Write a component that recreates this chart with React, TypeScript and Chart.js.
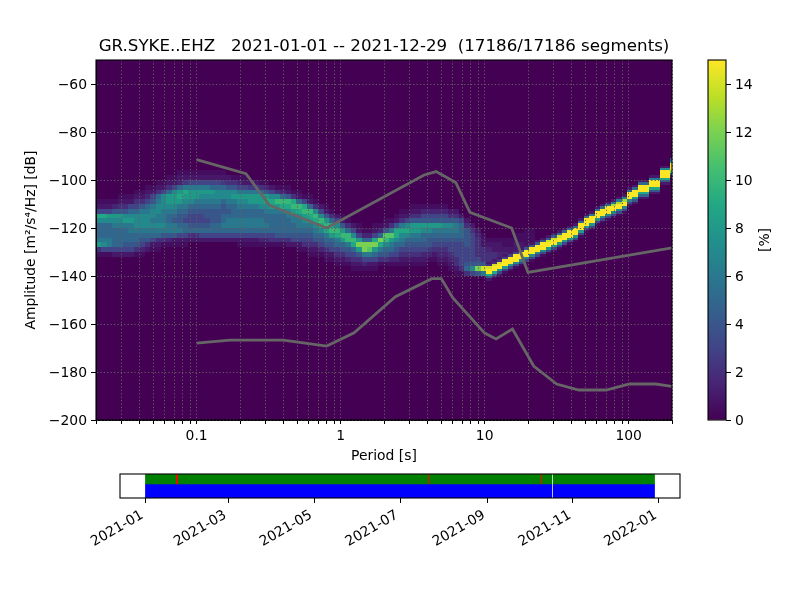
import React, { useEffect, useRef } from "react";
import { Chart, registerables } from "chart.js";

Chart.register(...registerables);

const FONT = "'DejaVu Sans'";
const TITLE = "GR.SYKE..EHZ   2021-01-01 -- 2021-12-29  (17186/17186 segments)";

// Period bin edges [s]
const periodEdges = [
  0.02, 0.0218, 0.0238, 0.0259, 0.0283, 0.0308, 0.0336, 0.0367,
  0.04, 0.0436, 0.0476, 0.0519, 0.0566, 0.0617, 0.0673, 0.0734,
  0.08, 0.0872, 0.0951, 0.1037, 0.1131, 0.1234, 0.1345, 0.1467,
  0.16, 0.1745, 0.1903, 0.2075, 0.2263, 0.2468, 0.2691, 0.2934,
  0.32, 0.349, 0.3805, 0.415, 0.4525, 0.4935, 0.5382, 0.5869,
  0.64, 0.698, 0.761, 0.83, 0.905, 0.987, 1.076, 1.174,
  1.28, 1.396, 1.522, 1.66, 1.81, 1.974, 2.153, 2.348,
  2.56, 2.792, 3.044, 3.32, 3.62, 3.948, 4.305, 4.695,
  5.12, 5.583, 6.089, 6.64, 7.241, 7.896, 8.611, 9.39,
  10.24, 11.17, 12.18, 13.28, 14.48, 15.79, 17.22, 18.78,
  20.48, 22.33, 24.36, 26.56, 28.96, 31.58, 34.44, 37.56,
  40.96, 44.67, 48.71, 53.12, 57.93, 63.17, 68.89, 75.13,
  81.92, 89.34, 97.42, 106.2, 115.9, 126.3, 137.8, 150.3,
  163.8, 178.7, 194.8, 212,
];

// Top of the first row of the broad part, and height of its rows [dB]
const broadTopDb = -96;
const broadRowDb = 2;
// Probability [%] per period column, rows going downwards from broadTopDb
const broadPercent: number[][] = [
  [0,0,0,0,0,0,.5,1,3,9,7,5,5,5,6,8,2,.5],
  [0,0,0,0,0,0,.5,1,3,9,7,5,5,5,6,7,3,.5],
  [0,0,0,0,0,0,.5,1,3,8,7,5,5,5,6,6,3,.5],
  [0,0,0,0,0,0,.5,1.5,4,8,7,6,5,5,5,5,3,1],
  [0,0,0,0,0,.5,1,2,4,8,7,6,5,5,5,5,3,1],
  [0,0,0,0,0,.5,1,2,4,7,8,6,5,5,5,4,3,1],
  [0,0,0,0,0,.5,1,3,5,7,8,6,6,5,5,4,3,1],
  [0,0,0,0,.5,1,2,3,5,7,7,7,6,5,5,4,2,.5],
  [0,0,0,0,.5,1,2,4,6,7,7,7,6,5,4,3,1.5,.5],
  [0,0,0,.5,1,1.5,3,5,6,7,7,7,6,5,4,2,1],
  [0,0,0,.5,1,3,4,6,7,7,6,7,6,5,3,1,.5],
  [0,0,.5,1,2,5,6,7,7,6,6,7,6,5,2,1,.5],
  [0,0,.5,1,3,7,7,7,6,6,6,7,6,4,2,.5],
  [0,.5,1,2,5,8,8,7,6,5,5,6,6,4,1.5,.5],
  [0,.5,1,3,7,8,8,7,6,5,4,6,6,4,1,.5],
  [.5,1,1.5,5,8,9,8,6,5,4,4,5,6,3,1,.5],
  [.5,1,2.5,6,9,8,7,6,5,4,3,5,5,3,1,.5],
  [.5,1,3,6,8,8,7,5,4,3,3,4,5,2,1],
  [.5,1,3,6,8,8,6,5,4,3,3,4,5,2,1],
  [.5,1,3,6,8,7,6,5,4,3,3,4,5,3,1],
  [.5,1,3,6,8,7,6,5,4,4,3,4,5,3,1],
  [.5,1,3,5,8,7,6,5,4,4,4,5,5,3,1],
  [.5,1,3,5,7,7,6,5,4,4,4,5,5,3,1],
  [.5,1,2.5,5,7,7,5,4,4,5,5,6,5,3,1],
  [0,1,2,4,7,7,6,5,4,5,6,6,5,3,1],
  [0,.5,2,4,7,8,6,5,5,5,6,6,5,3,1],
  [0,.5,1.5,3,6,8,7,6,5,5,6,6,5,3,1,.5],
  [0,.5,1,3,6,8,7,6,5,5,6,6,5,3,1,.5],
  [0,0,1,2.5,6,8,8,6,5,5,6,6,5,3,1,.5],
  [0,0,1,2.5,6,8,8,6,5,5,6,6,5,3,1,.5],
  [0,0,.5,2,5,8,8,7,5,5,6,6,5,3,1.5,.5],
  [0,0,.5,1.5,4,8,9,7,6,5,5,6,5,3,1.5,.5],
  [0,0,0,1,3,7,9,8,6,5,5,5,5,3,2,.5],
  [0,0,0,.5,2,7,10,8,6,5,5,5,5,4,2,.5],
  [0,0,0,.5,1.5,5,10,9,6,5,5,5,5,4,2,.5],
  [0,0,0,.5,1,4,10,9,7,6,5,5,5,4,2,1],
  [0,0,0,0,.5,2,9,10,8,6,6,5,5,4,3,1],
  [0,0,0,0,.5,1,5,10,9,7,6,6,5,4,3,1,.5],
  [0,0,0,0,0,.5,3,9,10,8,7,6,5,4,3,2,.5],
  [0,0,0,0,0,.5,1,5,10,9,8,6,5,4,3,2,1,.5],
  [0,0,0,0,0,0,.5,2,7,10,9,7,6,5,4,2,1,.5],
  [0,0,0,0,0,0,0,1,3,7,10,9,7,5,4,3,1.5,.5],
  [0,0,0,0,0,0,0,.5,1,4,8,10,9,6,5,4,2,1,.5],
  [0,0,0,0,0,0,0,0,.5,2,5,9,10,8,5,4,3,1,.5],
  [0,0,0,0,0,0,0,0,0,1,3,7,10,9,6,5,3,2,1,.5],
  [0,0,0,0,0,0,0,0,0,.5,1,4,8,10,8,5,4,2,1,.5],
  [0,0,0,0,0,0,0,0,0,0,.5,2,5,10,10,6,4,3,1.5,.5],
  [0,0,0,0,0,0,0,0,0,0,0,1,3,7,10,9,5,3,2,1,.5],
  [0,0,0,0,0,0,0,0,0,0,0,.5,1,3,8,12,8,4,2,1,.5],
  [0,0,0,0,0,0,0,0,0,0,0,0,.5,1.5,5,12,12,6,3,1.5,.5],
  [0,0,0,0,0,0,0,0,0,0,0,0,.5,1.5,5,12,11,6,3,1,.5],
  [0,0,0,0,0,0,0,0,0,0,0,.5,1,3,9,12,8,5,3,1,.5],
  [0,0,0,0,0,0,0,0,0,0,0,.5,1.5,5,12,9,6,4,2,.5],
  [0,0,0,0,0,0,0,0,0,0,.5,1,4,11,10,7,5,4,2,.5],
  [0,0,0,0,0,0,0,0,0,0,.5,2,6,11,8,6,5,3,1.5,.5],
  [0,0,0,0,0,0,0,0,0,.5,1,4,9,9,7,5,4,3,1.5,.5],
  [0,0,0,0,0,0,0,0,.5,1,2,6,9,7,6,5,3,2,1,.5],
  [0,0,0,0,0,0,0,0,.5,1,3,7,9,7,5,4,3,2,1,.5],
  [0,0,0,0,0,0,0,.5,1,2,4,8,8,6,5,4,3,2,1,.5],
  [0,0,0,0,0,0,0,.5,1,2,4,8,8,6,5,4,3,2,1,.5],
  [0,0,0,0,0,0,0,.5,1.5,3,4,8,7,5,5,4,3,1.5,1,.5],
  [0,0,0,0,0,0,0,.5,1.5,3,4,8,7,5,4,4,2.5,1.5,.5],
  [0,0,0,0,0,0,0,.5,1.5,3,4,8,6,5,4,3,2,1,.5],
  [0,0,0,0,0,0,0,.5,1.5,3,4,8,6,5,4,3,2,1.5,1,.5],
  [0,0,0,0,0,0,0,.5,1.5,3,4,7,6,5,4,3,2,1.5,1,.5],
  [0,0,0,0,0,0,0,0,1,2,4,7,6,5,4,3,3,2,1.5,1,.5],
  [0,0,0,0,0,0,0,0,1,2,4,6,6,5,4,3,3,3,2,2,1,.5],
  [0,0,0,0,0,0,0,0,0,1,3,5,5,5,4,3,3,3,3,3,2,.5],
  [0,0,0,0,0,0,0,0,0,0,1,2,4,4,4,4,3,3,3,4,5,2],
  [0,0,0,0,0,0,0,0,0,0,0,1,2,3,3,3,3,3,3,4,7,3],
  [0,0,0,0,0,0,0,0,0,0,0,0,1,1.5,2,2,2,2,3,4,12,4],
  [0,0,0,0,0,0,0,0,0,0,0,0,0,.5,1,1,2,2,2,4,14,6],
  [0,0,0,0,0,0,0,0,0,0,0,0,0,0,.5,1,1.5,2,2,3,4],
  [0,0,0,0,0,0,0,0,0,0,0,0,0,0,.5,1,1,2,2,2,2],
  [0,0,0,0,0,0,0,0,0,0,0,0,0,0,.5,1,1,1.5,1.5,1.5],
  [0,0,0,0,0,0,0,0,0,0,0,0,0,0,.5,.5,1,1.5,1],
  [0,0,0,0,0,0,0,0,0,0,0,0,0,0,.5,.5,1,1,.5],
  [0,0,0,0,0,0,0,0,0,0,0,0,0,.5,.5,1,1],
  [0,0,0,0,0,0,0,0,0,0,0,0,0,.5,.5,1],
  [0,0,0,0,0,0,0,0,0,0,0,0,.5,.5,.5,.5],
  [0,0,0,0,0,0,0,0,0,0,0,0,.5,.5,.5],
];

// The narrow ridge: first period column it starts in, its centre per column
const ridgeFirstColumn = 72;
const ridgeCenterDb = [
  -138,-137,-136,-135,-134,-133,-132,-131,-130,-129,-128,-127,-126,-125,-124,-123,-122,-120,
  -118,-117,-115,-114,-113,-112,-111,-110,-107,-106,-104,-104,-102,-102,-98,-98,-95,
];
const ridgeRowDb = 1;
const ridgeAboveDb = 4;
// Probability [%] per column, rows going downwards from centre + ridgeAboveDb
const ridgePercent: number[][] = [
  [1,2,14,15,15,9,4,1],[1,2,14,15,15,9,4,1],[1,2,14,15,15,8,3,1],[1,3,15,15,15,8,3,.5],
  [1,3,15,15,15,8,3,.5],[1,3,15,15,15,7,3,.5],[1,3,15,15,15,7,3,.5],[1,4,15,15,15,7,3,.5],
  [1,4,15,15,15,7,3,.5],[1,4,15,15,15,7,3,.5],[1,4,15,15,15,7,3,.5],[1,4,14,15,15,8,3,.5],
  [1,4,14,15,15,8,3,.5],[1,5,14,15,15,8,3,.5],[1,5,15,15,15,8,3,.5],[1,5,15,15,15,8,3,.5],
  [1,5,15,15,15,8,3,.5],[1,5,15,15,15,8,3,.5],[1,5,15,15,15,8,3,.5],[1,6,15,15,15,8,3,.5],
  [1,6,15,15,15,8,3,.5],[1,5,15,15,15,7,3,.5],[1,5,15,15,15,7,3,.5],[1,6,13,15,15,7,3,.5],
  [1,6,13,15,15,7,3,.5],[1,6,13,15,15,7,3,.5],[1,5,15,15,15,7,3,1],[1,5,15,15,15,8,4,1],
  [1,5,15,15,15,9,5,1],[1,5,15,15,15,9,5,1],[1,6,15,15,15,9,4,1],[1,6,15,15,15,9,4,1],
  [1,7,15,15,15,9,4,1],[1,7,15,15,15,9,4,1],[4,8,15,15,15,12,5,1],
];

// Reference noise models
const nhnmPeriods = [0.1, 0.22, 0.32, 0.8, 3.8, 4.6, 6.3, 7.9, 15.4, 20, 200];
const nhnmDb = [-91.5, -97.4, -110.5, -120, -97.9, -96.5, -101, -113.5, -120, -138.5, -128.3];
const nlnmPeriods = [0.1, 0.17, 0.4, 0.8, 1.24, 2.4, 4.3, 5, 6, 10, 12, 15.6, 21.9, 31.6, 45, 70, 101, 154, 200];
const nlnmDb = [-168, -166.7, -166.7, -169.2, -163.7, -148.6, -141.1, -141.1, -149, -163.8, -166.2, -162.1, -177.5, -185, -187.5, -187.5, -185, -185, -186];

// Axes
const periodTicks = [
  0.02, 0.03, 0.04, 0.05, 0.06, 0.07, 0.08, 0.09, 0.1, 0.2, 0.3, 0.4, 0.5, 0.6, 0.7, 0.8, 0.9,
  1, 2, 3, 4, 5, 6, 7, 8, 9, 10, 20, 30, 40, 50, 60, 70, 80, 90, 100, 200,
];
const periodLabels = [0.1, 1, 10, 100];
const dbTicks = [-200, -180, -160, -140, -120, -100, -80, -60];
const percentTicks = [0, 2, 4, 6, 8, 10, 12, 14];
const percentMax = 15;

// Data availability timeline
const monthTicks = ["2021-01", "2021-03", "2021-05", "2021-07", "2021-09", "2021-11", "2022-01"];
const timeRows = ["qc", "data"];
const qcSegments = [["2021-01-01", "2021-10-17"], ["2021-10-18", "2021-12-29"]];
const dataSegments = [["2021-01-01", "2021-10-17"], ["2021-10-18", "2021-12-29"]];
const flagSegments = [["2021-01-23", "2021-01-23T20:00"], ["2021-07-21", "2021-07-21T08:00"], ["2021-10-09T12:00", "2021-10-09T20:00"]];

const viridisStops = ["#440154", "#482475", "#414487", "#355f8d", "#2a788e", "#21918c", "#22a884", "#44bf70", "#7ad151", "#bddf26", "#fde725"];

function hexToRgb(h: string) {
  return [1, 3, 5].map((i) => parseInt(h.slice(i, i + 2), 16));
}
function viridis(t: number) {
  const p = Math.max(0, Math.min(1, t)) * (viridisStops.length - 1);
  const i = Math.min(Math.floor(p), viridisStops.length - 2);
  const a = hexToRgb(viridisStops[i]);
  const b = hexToRgb(viridisStops[i + 1]);
  const f = p - i;
  return `rgb(${a.map((v, k) => Math.round(v + (b[k] - v) * f)).join(",")})`;
}
function ms(s: string) {
  const t = s.length === 7 ? s + "-01" : s;
  return Date.parse(t.includes("T") ? t + "Z" : t + "T00:00Z");
}

type Cell = { x: number; y: number; x2: number; y2: number; v: number };
function buildCells(): Cell[] {
  const cells: Cell[] = [];
  broadPercent.forEach((col, i) => {
    col.forEach((v, r) => {
      if (!v) return;
      const top = broadTopDb - r * broadRowDb;
      cells.push({ x: periodEdges[i], x2: periodEdges[i + 1], y: top, y2: top - broadRowDb, v });
    });
  });
  ridgePercent.forEach((col, k) => {
    const i = ridgeFirstColumn + k;
    col.forEach((v, r) => {
      const top = ridgeCenterDb[k] + ridgeAboveDb - r * ridgeRowDb;
      cells.push({ x: periodEdges[i], x2: periodEdges[i + 1], y: top, y2: top - ridgeRowDb, v });
    });
  });
  return cells;
}

const framePlugin = {
  id: "frame",
  afterDraw(chart: any) {
    const { left, top, width, height } = chart.chartArea;
    const c = chart.ctx;
    c.save();
    c.strokeStyle = "#000";
    c.lineWidth = 1.1;
    c.strokeRect(left, top, width, height);
    c.restore();
  },
};

const heatPlugin = {
  id: "heat",
  beforeDatasetsDraw(chart: any) {
    const { left, top, width, height } = chart.chartArea;
    const c = chart.ctx;
    const xs = chart.scales.x;
    const ys = chart.scales.y;
    c.save();
    c.beginPath();
    c.rect(left, top, width, height);
    c.clip();
    c.fillStyle = viridis(0);
    c.fillRect(left, top, width, height);
    for (const d of chart.data.datasets[2].data as Cell[]) {
      const x0 = Math.round(xs.getPixelForValue(d.x));
      const x1 = Math.round(xs.getPixelForValue(d.x2));
      const y0 = Math.round(ys.getPixelForValue(d.y));
      const y1 = Math.round(ys.getPixelForValue(d.y2));
      c.fillStyle = viridis(d.v / percentMax);
      c.fillRect(x0, y0, x1 - x0, y1 - y0);
    }
    c.restore();
  },
};

const percentTitlePlugin = {
  id: "percentTitle",
  afterDraw(chart: any) {
    const c = chart.ctx;
    const { top, bottom } = chart.chartArea;
    c.save();
    c.translate(75, (top + bottom) / 2);
    c.rotate(-Math.PI / 2);
    c.font = `13.9px ${FONT}`;
    c.fillStyle = "#000";
    c.textAlign = "center";
    c.textBaseline = "middle";
    c.fillText("[%]", 0, 0);
    c.restore();
  },
};

const tickFont = { family: FONT, size: 13.9 };

export default function App() {
  const mainRef = useRef<HTMLCanvasElement>(null);
  const barRef = useRef<HTMLCanvasElement>(null);
  const timeRef = useRef<HTMLCanvasElement>(null);

  useEffect(() => {
    const lineStyle = {
      showLine: true,
      borderColor: "#666666",
      borderWidth: 2.8,
      pointRadius: 0,
      fill: false,
      tension: 0,
    };
    const gridStyle = {
      z: 1,
      color: "#606060",
      lineWidth: 1,
      tickColor: "#000",
      tickBorderDash: [],
    };
    const main = new Chart(mainRef.current!, {
      type: "scatter",
      data: {
        datasets: [
          { label: "NHNM", data: nhnmPeriods.map((x, i) => ({ x, y: nhnmDb[i] })), ...lineStyle },
          { label: "NLNM", data: nlnmPeriods.map((x, i) => ({ x, y: nlnmDb[i] })), ...lineStyle },
          { label: "PPSD", data: buildCells() as any, pointRadius: 0, showLine: false },
        ],
      },
      options: {
        responsive: false,
        animation: false,
        devicePixelRatio: 1,
        layout: { autoPadding: false, padding: { left: 0, right: 128, top: 0, bottom: 0 } },
        plugins: {
          legend: { display: false },
          tooltip: { enabled: false },
          title: {
            display: true,
            text: TITLE,
            fullSize: false,
            color: "#000",
            font: { family: FONT, size: 16.67, weight: "normal", lineHeight: "20px" },
            padding: { top: 37, bottom: 3 },
          },
        },
        scales: {
          x: {
            type: "logarithmic",
            min: 0.02,
            max: 200,
            afterBuildTicks: (a: any) => { a.ticks = periodTicks.map((value) => ({ value })); },
            afterFit: (a: any) => { a.height = 50; },
            grid: { ...gridStyle, tickLength: 4 } as any,
            border: { display: true, color: "#000", dash: [1.2, 2.2], z: 1 } as any,
            ticks: {
              autoSkip: false,
              maxRotation: 0,
              minRotation: 0,
              padding: 4,
              color: "#000",
              font: tickFont,
              callback: (v: any) => (periodLabels.includes(Number(v)) ? String(v) : ""),
            },
            title: {
              display: true,
              text: "Period [s]",
              color: "#000",
              font: tickFont,
              padding: { top: 0, bottom: 5 },
            },
          },
          y: {
            type: "linear",
            min: -200,
            max: -50,
            afterBuildTicks: (a: any) => { a.ticks = dbTicks.map((value) => ({ value })); },
            afterFit: (a: any) => { a.width = 96; },
            grid: { ...gridStyle, tickLength: 5 } as any,
            border: { display: true, color: "#000", dash: [1.2, 2.2], z: 1 } as any,
            ticks: {
              padding: 4,
              labelOffset: 1,
              color: "#000",
              font: tickFont,
              callback: (v: any) => String(v).replace("-", "\u2212"),
            },
            title: {
              display: true,
              text: "Amplitude [m\u00b2/s\u2074/Hz] [dB]",
              color: "#000",
              font: tickFont,
              padding: { top: 23, bottom: 0 },
            },
          },
        },
      } as any,
      plugins: [heatPlugin, framePlugin],
    });

    const bar = new Chart(barRef.current!, {
      type: "bar",
      data: {
        labels: ["%"],
        datasets: [
          {
            data: [[0, percentMax]] as any,
            barPercentage: 1,
            categoryPercentage: 1,
            borderWidth: 0,
            backgroundColor: (ctx: any) => {
              const area = ctx.chart.chartArea;
              if (!area) return viridis(0);
              const g = ctx.chart.ctx.createLinearGradient(0, area.bottom, 0, area.top);
              viridisStops.forEach((s, i) => g.addColorStop(i / (viridisStops.length - 1), s));
              return g;
            },
          },
        ],
      },
      options: {
        responsive: false,
        animation: false,
        devicePixelRatio: 1,
        layout: { autoPadding: false, padding: { left: 18, right: 0, top: 60, bottom: 50 } },
        plugins: { legend: { display: false }, tooltip: { enabled: false } },
        scales: {
          x: { display: false },
          y: {
            position: "right",
            min: 0,
            max: percentMax,
            afterBuildTicks: (a: any) => { a.ticks = percentTicks.map((value) => ({ value })); },
            afterFit: (a: any) => { a.width = 74; },
            grid: { drawOnChartArea: false, tickColor: "#000", tickLength: 5 },
            border: { display: false },
            ticks: { padding: 4, labelOffset: 1, color: "#000", font: tickFont },
          },
        },
      } as any,
      plugins: [framePlugin, percentTitlePlugin],
    });

    const seg = (row: string, list: string[][]) => list.map(([a, b]) => ({ x: [ms(a), ms(b)], y: row }));
    const barBase = { borderWidth: 0, grouped: false, borderSkipped: false };
    const rangeStart = ms("2021-01-01");
    const rangeEnd = ms("2021-12-29");
    const margin = (rangeEnd - rangeStart) * 0.05;
    const time = new Chart(timeRef.current!, {
      type: "bar",
      data: {
        labels: timeRows,
        datasets: [
          { data: seg("qc", flagSegments) as any, backgroundColor: "#ff0000", barThickness: 20, ...barBase },
          { data: seg("qc", qcSegments) as any, backgroundColor: "#008000", barThickness: 20, ...barBase },
          { data: seg("data", dataSegments) as any, backgroundColor: "#0000ff", barThickness: 28, ...barBase },
        ],
      },
      options: {
        indexAxis: "y",
        responsive: false,
        animation: false,
        devicePixelRatio: 1,
        layout: { autoPadding: false, padding: { left: 120, right: 120, top: 24, bottom: 0 } },
        plugins: { legend: { display: false }, tooltip: { enabled: false } },
        scales: {
          y: { type: "category", display: false, offset: false },
          x: {
            type: "linear",
            min: rangeStart - margin,
            max: rangeEnd + margin,
            afterBuildTicks: (a: any) => { a.ticks = monthTicks.map((m) => ({ value: ms(m) })); },
            afterFit: (a: any) => { a.height = 102; },
            grid: { drawOnChartArea: false, tickColor: "#000", tickLength: 5 },
            border: { display: false },
            ticks: {
              autoSkip: false,
              minRotation: 30,
              maxRotation: 30,
              padding: 4,
              labelOffset: -3,
              color: "#000",
              font: tickFont,
              callback: (v: any) => monthTicks.find((m) => ms(m) === Number(v)) ?? "",
            },
          },
        },
      } as any,
      plugins: [framePlugin],
    });

    return () => {
      main.destroy();
      bar.destroy();
      time.destroy();
    };
  }, []);

  const place = (left: number, top: number): React.CSSProperties => ({ position: "absolute", left, top, display: "block" });
  return (
    <div style={{ position: "absolute", left: 0, top: 0, width: 800, height: 600, background: "#fff", overflow: "hidden" }}>
      <canvas ref={mainRef} width={800} height={470} style={place(0, 0)} />
      <canvas ref={barRef} width={110} height={470} style={place(690, 0)} />
      <canvas ref={timeRef} width={800} height={150} style={place(0, 450)} />
    </div>
  );
}
